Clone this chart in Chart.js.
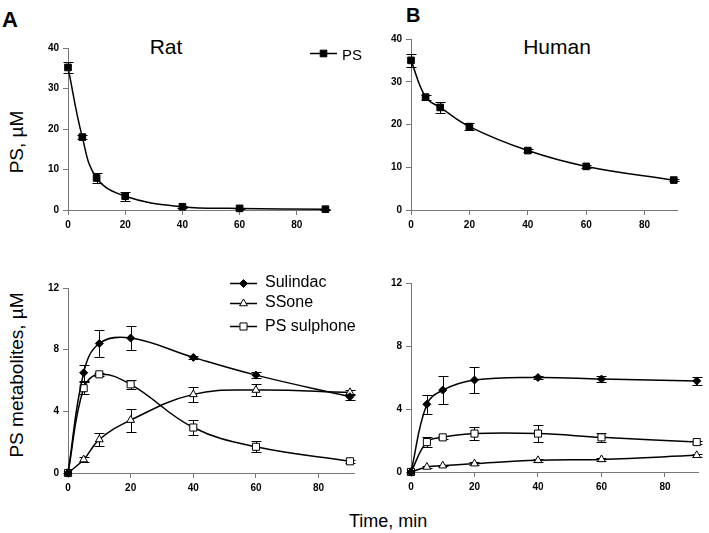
<!DOCTYPE html>
<html>
<head>
<meta charset="utf-8">
<script src="https://cdn.jsdelivr.net/npm/chart.js@4.4.1/dist/chart.umd.min.js"></script>
<style>
  body { margin: 0; background: #fff; width: 709px; height: 533px; position: relative; overflow: hidden;
         font-family: 'Liberation Sans', Arial, sans-serif; }
  canvas { position: absolute; }
  .lbl { position: absolute; white-space: nowrap; color: #000; line-height: 1; }
  .rot { transform: translate(-50%, -50%) rotate(-90deg); }
</style>
</head>
<body>
<div class="lbl" style="left:2px;top:9px;font-size:22px;font-weight:bold;">A</div>
<div class="lbl" style="left:406px;top:5px;font-size:20px;font-weight:bold;">B</div>
<div class="lbl" style="left:116px;top:36px;width:100px;text-align:center;font-size:21px;">Rat</div>
<div class="lbl" style="left:507px;top:36px;width:100px;text-align:center;font-size:21px;">Human</div>
<div class="lbl rot" style="left:15.5px;top:142px;font-size:19px;">PS, µM</div>
<div class="lbl rot" style="left:15.5px;top:375px;font-size:19px;">PS metabolites, µM</div>
<div class="lbl" style="left:349px;top:512px;font-size:18px;">Time, min</div>

<canvas id="ratPS"></canvas>
<canvas id="humanPS"></canvas>
<canvas id="ratMet"></canvas>
<canvas id="humanMet"></canvas>

<script>
// sampling times (min) and axis ticks
const times = [0, 5, 10, 20, 40, 60, 90];
const xTicks = [0, 20, 40, 60, 80];
const psTicks = [0, 10, 20, 30, 40];
const metTicks = [0, 4, 8, 12];
const seriesNames = ['PS', 'Sulindac', 'SSone', 'PS sulphone'];

// parent compound, mean and error
const ratPS = [35.2, 18.0, 7.9, 3.4, 0.8, 0.4, 0.2];
const ratPSErr = [1.4, 0.4, 1.3, 1.1, 0.3, 0.2, 0.1];
const humanPS = [35.0, 26.4, 24.0, 19.5, 13.9, 10.2, 7.0];
const humanPSErr = [1.5, 0.6, 1.2, 0.9, 0.3, 0.3, 0.3];

// metabolites, rat
const ratSulindac = [0, 6.5, 8.4, 8.75, 7.5, 6.35, 4.95];
const ratSulindacErr = [0, 0.5, 0.9, 0.8, 0.1, 0.2, 0.2];
const ratSSone = [0, 0.87, 2.17, 3.43, 5.1, 5.38, 5.23];
const ratSSoneErr = [0, 0.15, 0.43, 0.74, 0.5, 0.4, 0.15];
const ratSulphone = [0, 5.5, 6.4, 5.75, 2.95, 1.7, 0.76];
const ratSulphoneErr = [0, 0.4, 0.1, 0.3, 0.5, 0.35, 0.1];

// metabolites, human
const humanSulindac = [0, 4.3, 5.2, 5.84, 6.0, 5.9, 5.78];
const humanSulindacErr = [0, 0.6, 0.87, 0.8, 0.08, 0.2, 0.25];
const humanSSone = [0, 0.32, 0.4, 0.53, 0.74, 0.8, 1.06];
const humanSSoneErr = [0, 0.05, 0.05, 0.1, 0.1, 0.1, 0.1];
const humanSulphone = [0, 1.9, 2.2, 2.44, 2.44, 2.2, 1.9];
const humanSulphoneErr = [0, 0.3, 0.1, 0.4, 0.55, 0.3, 0.1];

const AXIS = '#777';
const PAD_L = 50, PAD_T = 20, PAD_B = 30;

const styles = {
  'PS':          { pointStyle: 'rect',     pointRadius: 4.7, pointBackgroundColor: '#000' },
  'Sulindac':    { pointStyle: 'rectRot',  pointRadius: 4,   pointBackgroundColor: '#000' },
  'SSone':       { pointStyle: 'triangle', pointRadius: 4.5, pointBackgroundColor: '#fff' },
  'PS sulphone': { pointStyle: 'rect',     pointRadius: 5,   pointBackgroundColor: '#fff' }
};

function series(name, vals, errs) {
  return Object.assign({
    label: name,
    data: times.map((t, i) => ({ x: t, y: vals[i] })),
    errors: errs,
    borderColor: '#000',
    borderWidth: 1.5,
    pointBorderColor: '#000',
    pointBorderWidth: 1,
    tension: 0.4,
    clip: false
  }, styles[name]);
}

// error bars drawn under the markers
const errorBars = {
  id: 'errorBars',
  beforeDatasetsDraw(chart) {
    const { ctx, scales: { x, y } } = chart;
    ctx.save();
    ctx.strokeStyle = '#000';
    ctx.lineWidth = 1;
    chart.data.datasets.forEach(ds => {
      if (!ds.errors) return;
      ds.data.forEach((p, i) => {
        const e = ds.errors[i];
        if (!e) return;
        const px = Math.round(x.getPixelForValue(p.x)) + 0.5;
        const y1 = Math.round(y.getPixelForValue(p.y + e)) + 0.5;
        const y2 = Math.round(y.getPixelForValue(p.y - e)) + 0.5;
        ctx.beginPath();
        ctx.moveTo(px, y1); ctx.lineTo(px, y2);
        ctx.moveTo(px - 5, y1); ctx.lineTo(px + 5, y1);
        ctx.moveTo(px - 5, y2); ctx.lineTo(px + 5, y2);
        ctx.stroke();
      });
    });
    ctx.restore();
  }
};

// legend rows: line + marker + label, page coordinates
const legendLayout = {
  ratPS: [{ ds: 0, x1: 310, x2: 337, y: 53.5, tx: 342, ty: 60, size: 15 }],
  ratMet: [
    { ds: 0, x1: 230, x2: 257, y: 283.5, tx: 265, ty: 287, size: 16 },
    { ds: 1, x1: 230, x2: 257, y: 303.5, tx: 265, ty: 307, size: 16 },
    { ds: 2, x1: 230, x2: 257, y: 326.5, tx: 265, ty: 331, size: 16 }
  ]
};

const symLegend = {
  id: 'symLegend',
  afterDraw(chart) {
    const items = legendLayout[chart.canvas.id];
    if (!items) return;
    const ctx = chart.ctx;
    const ox = chart.$ox, oy = chart.$oy;
    items.forEach(it => {
      const ds = chart.data.datasets[it.ds];
      const y = it.y - oy;
      ctx.save();
      ctx.strokeStyle = ds.borderColor;
      ctx.lineWidth = ds.borderWidth;
      ctx.beginPath();
      ctx.moveTo(it.x1 - ox, y); ctx.lineTo(it.x2 - ox, y);
      ctx.stroke();
      ctx.fillStyle = ds.pointBackgroundColor;
      ctx.strokeStyle = ds.pointBorderColor;
      ctx.lineWidth = ds.pointBorderWidth;
      Chart.helpers.drawPoint(ctx, { pointStyle: ds.pointStyle, radius: ds.pointRadius, rotation: 0,
        borderWidth: ds.pointBorderWidth }, (it.x1 + it.x2) / 2 - ox, y);
      ctx.fillStyle = '#000';
      ctx.font = it.size + "px 'Liberation Sans', Arial, sans-serif";
      ctx.textBaseline = 'alphabetic';
      ctx.fillText(ds.label, it.tx - ox, it.ty - oy);
      ctx.restore();
    });
  }
};

function panel(id, box, padR, xMax, yMax, yTicks, datasets) {
  const cv = document.getElementById(id);
  const w = box.right - box.left + PAD_L + padR;
  const h = box.bottom - box.top + PAD_T + PAD_B;
  const ox = box.left - PAD_L, oy = box.top - PAD_T;
  cv.style.left = ox + 'px';
  cv.style.top = oy + 'px';
  cv.width = w; cv.height = h;
  cv.style.width = w + 'px'; cv.style.height = h + 'px';
  const tickFont = { family: "'Liberation Sans', Arial, sans-serif", size: 10, weight: 'bold' };
  const axisCommon = {
    type: 'linear',
    grid: { drawOnChartArea: false, drawTicks: true, tickLength: 5, color: AXIS },
    border: { display: true, color: AXIS, width: 1 },
    ticks: { font: tickFont, color: '#000', padding: 4 }
  };
  const chart = new Chart(cv, {
    type: 'line',
    data: { datasets },
    options: {
      responsive: false,
      animation: false,
      layout: { padding: { top: PAD_T, right: padR, left: 0, bottom: 0 } },
      plugins: { legend: { display: false }, tooltip: { enabled: false } },
      scales: {
        x: Object.assign({}, axisCommon, {
          min: 0, max: xMax,
          afterFit: s => { s.height = PAD_B; },
          afterBuildTicks: s => { s.ticks = xTicks.map(v => ({ value: v })); }
        }),
        y: Object.assign({}, axisCommon, {
          min: 0, max: yMax,
          afterFit: s => { s.width = PAD_L; },
          afterBuildTicks: s => { s.ticks = yTicks.map(v => ({ value: v })); }
        })
      }
    },
    plugins: [errorBars, symLegend]
  });
  chart.$ox = ox; chart.$oy = oy;
  chart.draw();
  return chart;
}

panel('ratPS', { left: 68, top: 48, right: 330, bottom: 210 }, 40, 91.6, 40, psTicks, [
  series(seriesNames[0], ratPS, ratPSErr)
]);
panel('humanPS', { left: 411, top: 39, right: 677, bottom: 210 }, 12, 91.1, 40, psTicks, [
  series(seriesNames[0], humanPS, humanPSErr)
]);
panel('ratMet', { left: 68, top: 288, right: 354, bottom: 473 }, 12, 91.3, 12, metTicks, [
  series(seriesNames[1], ratSulindac, ratSulindacErr),
  series(seriesNames[2], ratSSone, ratSSoneErr),
  series(seriesNames[3], ratSulphone, ratSulphoneErr)
]);
panel('humanMet', { left: 411, top: 283, right: 698, bottom: 472 }, 10, 90.4, 12, metTicks, [
  series(seriesNames[1], humanSulindac, humanSulindacErr),
  series(seriesNames[2], humanSSone, humanSSoneErr),
  series(seriesNames[3], humanSulphone, humanSulphoneErr)
]);
</script>
</body>
</html>
